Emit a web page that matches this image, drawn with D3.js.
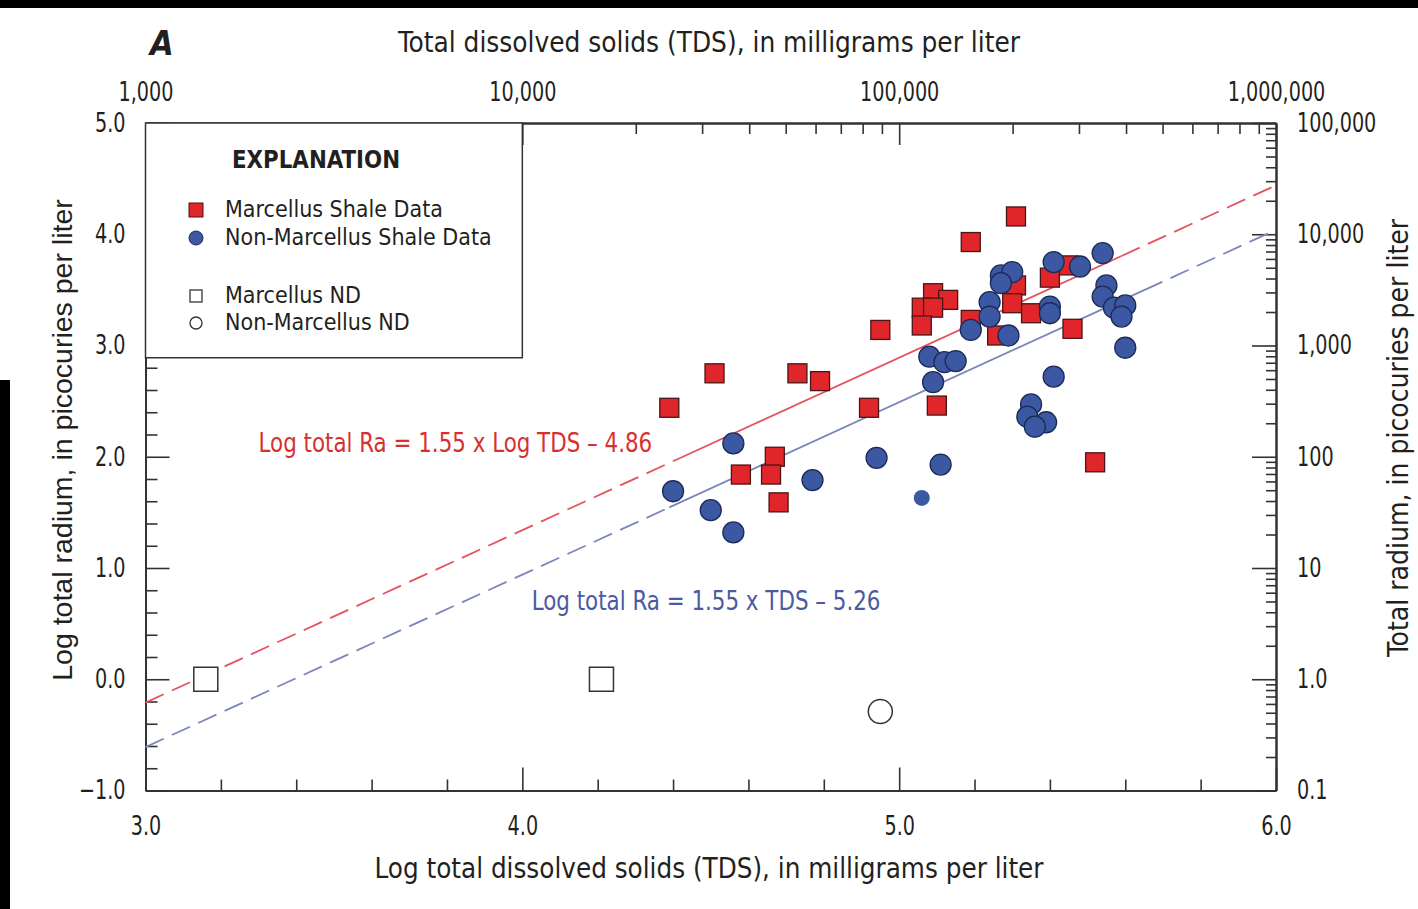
<!DOCTYPE html>
<html><head><meta charset="utf-8">
<script src="https://cdn.jsdelivr.net/npm/d3@7"></script>
<style>
html,body{margin:0;padding:0;background:#fff;}
svg{display:block;}
text{font-family:"DejaVu Sans Condensed","DejaVu Sans",sans-serif;fill:#231f20;}
</style></head>
<body>
<svg id="chart" width="1418" height="909"></svg>
<script>
// ---------- DATA ----------
const marcellusTDS = [5.31,5.19,5.45,5.40,5.31,5.09,5.13,5.06,5.09,5.30,5.35,5.19,5.06,5.26,4.95,5.46,4.51,4.73,4.79,4.39,4.92,5.10,5.52,4.67,4.58,4.66,4.68];
const marcellusRa  = [4.16,3.93,3.72,3.61,3.54,3.47,3.41,3.34,3.34,3.38,3.29,3.23,3.18,3.09,3.14,3.15,2.75,2.75,2.68,2.44,2.44,2.46,1.95,2.00,1.84,1.84,1.59];
const nonMarcellusTDS = [5.54,5.41,5.48,5.27,5.30,5.27,5.55,5.54,5.24,5.40,5.40,5.57,5.60,5.59,5.24,5.19,5.29,5.60,5.08,5.12,5.15,5.09,5.41,5.35,5.34,5.39,5.36,4.56,4.94,5.11,4.77,4.40,4.50,4.56];
const nonMarcellusRa  = [3.83,3.75,3.71,3.63,3.66,3.56,3.54,3.44,3.39,3.35,3.29,3.34,3.36,3.26,3.26,3.14,3.09,2.98,2.90,2.85,2.86,2.67,2.72,2.47,2.36,2.31,2.27,2.12,1.99,1.93,1.79,1.69,1.52,1.32];
const smallPointTDS = [5.06];
const smallPointRa  = [1.63];
const marcellusNDTDS = [3.16,4.21];
const marcellusNDRa  = [0.0,0.0];
const nonMarcellusNDTDS = [4.95];
const nonMarcellusNDRa  = [-0.29];
// regression lines: slope, intercept, solid range [start,end]
const fitNames = ["Marcellus","Non-Marcellus"];
const fitSlopes = [1.55,1.55];
const fitIntercepts = [-4.86,-5.26];
const fitSolidStart = [4.40,4.39];
const fitSolidEnd = [5.59,5.65];
const fitLabels = ["Log total Ra = 1.55 x Log TDS \u2013 4.86","Log total Ra = 1.55 x TDS \u2013 5.26"];
const fitLabelX = [3.30,4.025];
const fitLabelY = [2.045,0.62];
// axis ticks
const xMajorTicks = [3,4,5,6];
const yMajorTicks = [-1,0,1,2,3,4,5];
const topMajorTicks = [1000,10000,100000,1000000];
const topTickLabels = ["1,000","10,000","100,000","1,000,000"];
const rightMajorTicks = [0.1,1,10,100,1000,10000,100000];
const rightTickLabels = ["0.1","1.0","10","100","1,000","10,000","100,000"];
const legendLabels = ["Marcellus Shale Data","Non-Marcellus Shale Data","Marcellus ND","Non-Marcellus ND"];

// ---------- STYLE ----------
const colRed = "#e0262b", colRedStroke = "#4a1515";
const colBlue = "#3d58a3", colBlueStroke = "#1c2a57";
const colRedLine = "#e5535e", colBlueLine = "#7d86bb";
const colRedText = "#d8302f", colBlueText = "#4a5aa3";
const axisCol = "#333";

function squeeze(sel,f){
  sel.each(function(){
    const L=this.getComputedTextLength();
    d3.select(this).attr("textLength",L*f).attr("lengthAdjust","spacingAndGlyphs");
  });
}

const svg = d3.select("#chart");
svg.append("rect").attr("width",1418).attr("height",909).attr("fill","#fff");
// black scan edges
svg.append("rect").attr("x",0).attr("y",0).attr("width",1418).attr("height",8).attr("fill","#000");
svg.append("rect").attr("x",0).attr("y",380).attr("width",10).attr("height",529).attr("fill","#000");

const x = d3.scaleLinear().domain([3,6]).range([145.5,1276]);
const y = d3.scaleLinear().domain([-1,5]).range([790.5,123]);
const xTop = d3.scaleLog().domain([1000,1e6]).range(x.range());
const yRight = d3.scaleLog().domain([0.1,1e5]).range(y.range());

const plot = svg.append("g");

// legend box (behind axes)
const leg = svg.append("g");
leg.append("rect").attr("x",x(3)).attr("y",y(5)).attr("width",x(4)-x(3)).attr("height",y(2.89)-y(5))
  .attr("fill","#fff").attr("stroke",axisCol).attr("stroke-width",1.5);

// ---------- AXES ----------
function styleAxis(g){
  g.selectAll("path.domain").attr("stroke",axisCol).attr("stroke-width",2);
  g.selectAll(".tick line").attr("stroke",axisCol).attr("stroke-width",1.6);
  g.selectAll("text").attr("font-size",26).attr("fill","#231f20")
   .style("font-family",'"DejaVu Sans Condensed","DejaVu Sans",sans-serif');
  squeeze(g.selectAll("text"),0.82);
}
const minorLin = d3.range(-1,5.001,0.2).map(v=>+v.toFixed(1)).filter(v=>Math.abs(v-Math.round(v))>1e-6);
const minorLinX = d3.range(3,6.001,0.2).map(v=>+v.toFixed(1)).filter(v=>Math.abs(v-Math.round(v))>1e-6);
function logMinor(lo,hi){const out=[];for(let e=lo;e<hi;e++){for(let k=2;k<=9;k++)out.push(k*Math.pow(10,e));}return out;}

// bottom
plot.append("g").attr("transform",`translate(0,${y(-1)})`)
  .call(d3.axisBottom(x).tickValues(minorLinX).tickSizeInner(-11).tickSizeOuter(0).tickFormat(""))
  .call(styleAxis);
plot.append("g").attr("transform",`translate(0,${y(-1)})`)
  .call(d3.axisBottom(x).tickValues(xMajorTicks).tickSizeInner(-23).tickSizeOuter(0).tickPadding(26).tickFormat(d3.format(".1f")))
  .call(styleAxis);
// left
plot.append("g").attr("transform",`translate(${x(3)},0)`)
  .call(d3.axisLeft(y).tickValues(minorLin).tickSizeInner(-12).tickSizeOuter(0).tickFormat(""))
  .call(styleAxis);
plot.append("g").attr("transform",`translate(${x(3)},0)`)
  .call(d3.axisLeft(y).tickValues(yMajorTicks).tickSizeInner(-24).tickSizeOuter(0).tickPadding(20).tickFormat(d3.format(".1f")))
  .call(styleAxis);
// top
plot.append("g").attr("transform",`translate(0,${y(5)})`)
  .call(d3.axisTop(xTop).tickValues(logMinor(3,6)).tickSizeInner(-11).tickSizeOuter(0).tickFormat(""))
  .call(styleAxis);
plot.append("g").attr("transform",`translate(0,${y(5)})`)
  .call(d3.axisTop(xTop).tickValues(topMajorTicks).tickSizeInner(-22).tickSizeOuter(0).tickPadding(22)
        .tickFormat((d,i)=>topTickLabels[i]))
  .call(styleAxis);
// right
plot.append("g").attr("transform",`translate(${x(6)},0)`)
  .call(d3.axisRight(yRight).tickValues(logMinor(-1,5)).tickSizeInner(-10).tickSizeOuter(0).tickFormat(""))
  .call(styleAxis);
plot.append("g").attr("transform",`translate(${x(6)},0)`)
  .call(d3.axisRight(yRight).tickValues(rightMajorTicks).tickSizeInner(-24).tickSizeOuter(0).tickPadding(21)
        .tickFormat((d,i)=>rightTickLabels[i]))
  .call(styleAxis);

// ---------- LEGEND CONTENT ----------
const expl = leg.append("text").attr("x",232).attr("y",168).attr("font-size",25).attr("font-weight","bold").text("EXPLANATION");
squeeze(expl,0.95);
const legY = [210,238,296,323];
leg.append("rect").attr("x",189).attr("y",legY[0]-7).attr("width",14).attr("height",14).attr("fill",colRed).attr("stroke",colRedStroke).attr("stroke-width",1);
leg.append("circle").attr("cx",196).attr("cy",legY[1]).attr("r",7).attr("fill",colBlue).attr("stroke",colBlueStroke).attr("stroke-width",1);
leg.append("rect").attr("x",190).attr("y",legY[2]-6).attr("width",12).attr("height",12).attr("fill","#fff").attr("stroke","#333").attr("stroke-width",1.3);
leg.append("circle").attr("cx",196).attr("cy",legY[3]).attr("r",6).attr("fill","#fff").attr("stroke","#333").attr("stroke-width",1.3);
legendLabels.forEach((t,i)=>{
  leg.append("text").attr("x",225).attr("y",legY[i]+7).attr("font-size",23).text(t);
});

// ---------- FIT LINES ----------
const lineG = svg.append("g");
fitNames.forEach((n,i)=>{
  const f = v=>fitSlopes[i]*v+fitIntercepts[i];
  const col = i===0?colRedLine:colBlueLine;
  const segs = [[3,fitSolidStart[i],"20,9"],[fitSolidStart[i],fitSolidEnd[i],null],[fitSolidEnd[i],6,"20,9"]];
  segs.forEach(s=>{
    lineG.append("line").attr("x1",x(s[0])).attr("y1",y(f(s[0]))).attr("x2",x(s[1])).attr("y2",y(f(s[1])))
      .attr("stroke",col).attr("stroke-width",1.8).attr("stroke-dasharray",s[2]);
  });
  const t = svg.append("text").attr("x",x(fitLabelX[i])).attr("y",y(fitLabelY[i])).attr("font-size",26)
    .style("fill",i===0?colRedText:colBlueText).text(fitLabels[i]);
  squeeze(t,0.915);
});

// ---------- POINTS ----------
const pts = svg.append("g");
const sq = 19;
pts.selectAll("rect.m").data(d3.range(marcellusTDS.length)).join("rect").attr("class","m")
  .attr("x",i=>x(marcellusTDS[i])-sq/2).attr("y",i=>y(marcellusRa[i])-sq/2)
  .attr("width",sq).attr("height",sq).attr("fill",colRed).attr("stroke",colRedStroke).attr("stroke-width",1.3);
pts.selectAll("circle.n").data(d3.range(nonMarcellusTDS.length)).join("circle").attr("class","n")
  .attr("cx",i=>x(nonMarcellusTDS[i])).attr("cy",i=>y(nonMarcellusRa[i])).attr("r",10.5)
  .attr("fill",colBlue).attr("stroke",colBlueStroke).attr("stroke-width",1.3);
pts.selectAll("circle.s").data(d3.range(smallPointTDS.length)).join("circle").attr("class","s")
  .attr("cx",i=>x(smallPointTDS[i])).attr("cy",i=>y(smallPointRa[i])).attr("r",8)
  .attr("fill",colBlue).attr("stroke","none");
pts.selectAll("rect.mnd").data(d3.range(marcellusNDTDS.length)).join("rect").attr("class","mnd")
  .attr("x",i=>x(marcellusNDTDS[i])-12).attr("y",i=>y(marcellusNDRa[i])-12)
  .attr("width",24).attr("height",24).attr("fill","#fff").attr("stroke","#333").attr("stroke-width",1.5);
pts.selectAll("circle.nnd").data(d3.range(nonMarcellusNDTDS.length)).join("circle").attr("class","nnd")
  .attr("cx",i=>x(nonMarcellusNDTDS[i])).attr("cy",i=>y(nonMarcellusNDRa[i])).attr("r",12)
  .attr("fill","#fff").attr("stroke","#333").attr("stroke-width",1.5);

// ---------- TITLES ----------
svg.append("text").attr("x",150).attr("y",55).attr("font-size",34).attr("font-weight","bold").attr("font-style","italic").text("A");
svg.append("text").attr("x",709).attr("y",52).attr("text-anchor","middle").attr("font-size",27.7).text("Total dissolved solids (TDS), in milligrams per liter");
svg.append("text").attr("x",709).attr("y",878).attr("text-anchor","middle").attr("font-size",27.5).text("Log total dissolved solids (TDS), in milligrams per liter");
svg.append("text").attr("transform","translate(72,440) rotate(-90)").attr("text-anchor","middle").attr("font-size",28.5)
  .style("font-family","'Liberation Sans',Arial,sans-serif").text("Log total radium, in picocuries per liter");
svg.append("text").attr("transform","translate(1408,438) rotate(-90)").attr("text-anchor","middle").attr("font-size",28).text("Total radium, in picocuries per liter");
</script>
</body></html>
